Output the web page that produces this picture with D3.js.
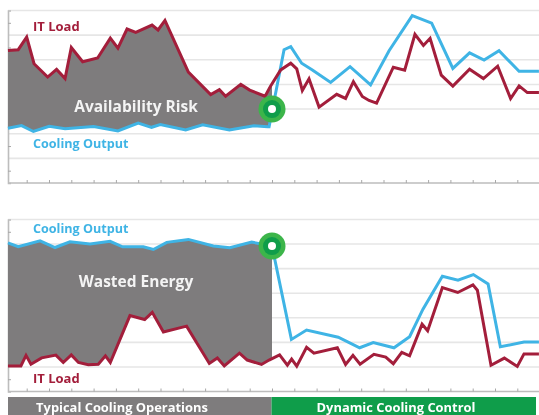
<!DOCTYPE html>
<html>
<head>
<meta charset="utf-8">
<script src="https://cdn.jsdelivr.net/npm/d3@7"></script>
<style>
  html, body { margin: 0; padding: 0; background: #fff; }
  svg { display: block; filter: blur(0.35px); }
  text { font-family: "Open Sans", sans-serif; font-weight: 700; }
</style>
</head>
<body>
<div id="chart"></div>
<script>
'use strict'

// [interval, load units]
var topLoad = [[0.16,5.38],[0.62,5.41],[1.0,5.92],[1.33,4.84],[1.94,4.30],[2.34,4.61],[2.72,4.24],[3.0,5.50],[3.51,4.92],[4.18,5.07],[4.75,5.88],[5.09,5.47],[5.5,6.25],[5.89,6.11],[6.62,6.41],[6.89,6.21],[7.2,6.60],[8.25,4.50],[9.25,3.59],[9.64,3.79],[9.92,3.52],[10.6,4.0],[11.0,3.77],[11.69,3.52],[11.94,3.94],[12.39,4.59],[12.84,4.86],[13.11,4.63],[13.36,3.75],[13.66,4.23],[14.11,3.08],[14.9,3.60],[15.3,3.43],[15.65,4.11],[16.05,3.51],[16.35,3.35],[16.69,3.24],[17.44,4.70],[17.95,4.58],[18.41,6.03],[18.79,5.58],[19.09,5.87],[19.59,4.38],[20.11,3.93],[20.86,4.62],[21.48,4.24],[22.12,4.74],[22.7,3.43],[23.08,3.94],[23.45,3.67],[23.97,3.67]]
var topCooling = [[0.16,2.22],[0.77,2.33],[1.3,2.09],[2.01,2.30],[2.72,2.20],[4.0,2.29],[5.09,2.11],[6.0,2.43],[6.6,2.26],[6.99,2.37],[8.13,2.15],[8.89,2.36],[10.09,2.15],[11.19,2.32],[11.8,2.28],[11.87,2.28],[12.54,5.41],[12.84,5.53],[13.33,4.86],[13.81,4.59],[14.63,4.08],[15.5,4.72],[16.42,3.98],[17.25,5.37],[18.29,6.79],[19.16,6.49],[20.11,4.65],[20.86,5.28],[21.51,4.99],[22.18,5.37],[23.08,4.53],[23.97,4.53]]
var bottomLoad = [[0.16,1.04],[0.74,1.04],[0.97,1.47],[1.19,1.11],[1.67,1.37],[2.31,1.48],[2.64,1.18],[3.0,1.49],[3.32,1.18],[3.76,1.09],[4.21,1.11],[4.53,1.45],[4.75,1.18],[5.63,3.09],[6.29,2.93],[6.63,3.22],[7.13,2.42],[8.17,2.66],[9.19,1.14],[9.55,1.36],[9.86,1.04],[10.54,1.56],[10.89,1.28],[11.53,1.10],[11.87,1.28],[12.34,1.49],[12.69,1.07],[12.88,1.32],[13.11,1.03],[13.55,1.80],[13.88,1.56],[14.93,1.78],[15.3,1.10],[15.63,1.47],[15.95,1.11],[16.57,1.51],[17.1,1.40],[17.44,1.13],[17.82,1.59],[18.17,1.45],[18.73,2.74],[18.98,2.47],[19.64,4.23],[20.33,4.03],[21.01,4.34],[21.21,4.12],[21.82,1.07],[22.42,1.36],[23.0,1.02],[23.3,1.53],[23.97,1.53]]
var bottomCooling = [[0.16,6.05],[0.62,5.89],[1.6,6.13],[2.27,5.86],[2.94,6.09],[3.84,6.0],[4.74,6.11],[5.3,5.89],[6.23,5.89],[6.68,5.78],[7.28,6.07],[8.25,6.19],[9.37,5.92],[10.11,5.85],[11.09,6.08],[12.0,5.92],[12.87,2.12],[13.55,2.50],[14.97,2.21],[15.93,1.78],[16.54,1.99],[17.47,1.78],[18.17,2.23],[18.77,3.35],[19.64,4.69],[20.34,4.53],[21.03,4.76],[21.69,4.38],[22.24,1.82],[23.3,2.01],[23.97,2.01]]

var xTicks = d3.range(1, 25)
var yGrid = d3.range(1, 8)
var yMinor = d3.range(0.5, 7, 1)

var switchPoint = 12
var topSwitchValue = 3.0
var bottomSwitchValue = 5.92

var colors = {
  load: '#a31e3b',
  cooling: '#3fb4e5',
  gap: '#7e7c7d',
  grid: '#e6e6e6',
  axis: '#bdbdbd',
  typical: '#7e7c7d',
  dynamic: '#0f9d4a'
}

var width = 539
var height = 415
var left = 8

var svg = d3.select('#chart').append('svg')
  .attr('width', width)
  .attr('height', height)

var x = d3.scaleLinear().domain([0, 24]).range([4.4, 539.6])

drawPanel({ top: 10.5, bottom: 183 }, topLoad, topCooling, topSwitchValue, 'top', 'Availability Risk')
drawPanel({ top: 219.5, bottom: 391.5 }, bottomLoad, bottomCooling, bottomSwitchValue, 'bottom', 'Wasted Energy')
drawFooter()

function drawPanel(box, load, cooling, switchValue, id, gapLabel) {
  var y = d3.scaleLinear().domain([0, 7]).range([box.bottom, box.top])
  var g = svg.append('g').attr('class', 'panel-' + id)

  g.selectAll('.grid')
    .data(yGrid)
    .enter()
    .append('line')
    .attr('class', 'grid')
    .attr('x1', left)
    .attr('x2', width)
    .attr('y1', function(d) { return y(d) })
    .attr('y2', function(d) { return y(d) })
    .attr('stroke', colors.grid)
    .attr('stroke-width', 1.6)

  // left and bottom axes with short ticks
  var xAxis = d3.axisBottom(x).tickValues(xTicks).tickSize(-3).tickFormat('')
  var yAxis = d3.axisRight(y).tickValues(yMinor).tickSize(3).tickFormat('')

  var ax = g.append('g').attr('transform', 'translate(0,' + box.bottom + ')').call(xAxis)
  ax.select('.domain').attr('d', 'M' + left + ',0H' + width)
  g.append('g').attr('transform', 'translate(' + left + ',0)').call(yAxis)
  g.selectAll('.domain').attr('stroke', colors.axis).attr('stroke-width', 1.6)
  g.selectAll('.tick line').attr('stroke', '#a8a8a8')

  // gap between the two lines, only up to the switch to dynamic control
  var clipId = 'clip-' + id
  g.append('clipPath').attr('id', clipId)
    .append('rect')
    .attr('x', left)
    .attr('y', box.top)
    .attr('width', x(switchPoint) - left)
    .attr('height', box.bottom - box.top)

  var line = d3.line()
    .x(function(d) { return x(d[0]) })
    .y(function(d) { return y(d[1]) })

  var before = function(d) { return d[0] <= switchPoint + 0.6 }
  g.append('path')
    .attr('d', line(load.filter(before).concat(cooling.filter(before).reverse())) + 'Z')
    .attr('fill', colors.gap)
    .attr('clip-path', 'url(#' + clipId + ')')

  var series = [[cooling, colors.cooling], [load, colors.load]]
  series.forEach(function(s) {
    g.append('path')
      .attr('d', line(s[0]))
      .attr('fill', 'none')
      .attr('stroke', s[1])
      .attr('stroke-width', 3)
      .attr('stroke-linejoin', 'miter')
  })

  // switch marker
  var mx = x(switchPoint)
  var my = y(switchValue)
  g.append('circle').attr('cx', mx).attr('cy', my).attr('r', 13.5).attr('fill', '#3cb54a')
  g.append('circle').attr('cx', mx).attr('cy', my).attr('r', 9).attr('fill', '#0f9d4a')
  g.append('circle').attr('cx', mx).attr('cy', my).attr('r', 4).attr('fill', '#fff')

  // labels
  g.append('text')
    .attr('x', 136)
    .attr('y', id === 'top' ? 112 : 287)
    .attr('text-anchor', 'middle')
    .attr('font-size', 15.5)
    .attr('font-weight', 600)
    .attr('fill', '#f4f4f4')
    .text(gapLabel)

  g.append('text')
    .attr('x', 33)
    .attr('y', id === 'top' ? 31 : 383)
    .attr('font-size', 13)
    .attr('font-weight', 600)
    .attr('fill', colors.load)
    .text('IT Load')

  g.append('text')
    .attr('x', 33)
    .attr('y', id === 'top' ? 148 : 233)
    .attr('font-size', 12.6)
    .attr('font-weight', 600)
    .attr('fill', colors.cooling)
    .text('Cooling Output')
}

function drawFooter() {
  var bandTop = 397
  var split = x(switchPoint) - 0.5
  var right = 536
  var bands = [
    { x: left, w: split - left, fill: colors.typical, label: 'Typical Cooling Operations', cx: 122 },
    { x: split, w: right - split, fill: colors.dynamic, label: 'Dynamic Cooling Control', cx: 396 }
  ]
  bands.forEach(function(b) {
    svg.append('rect')
      .attr('x', b.x)
      .attr('y', bandTop)
      .attr('width', b.w)
      .attr('height', height - bandTop)
      .attr('fill', b.fill)
    svg.append('text')
      .attr('x', b.cx)
      .attr('y', 412)
      .attr('text-anchor', 'middle')
      .attr('font-size', 12.9)
      .attr('font-weight', 600)
      .attr('fill', '#fff')
      .text(b.label)
  })
}
</script>
</body>
</html>
